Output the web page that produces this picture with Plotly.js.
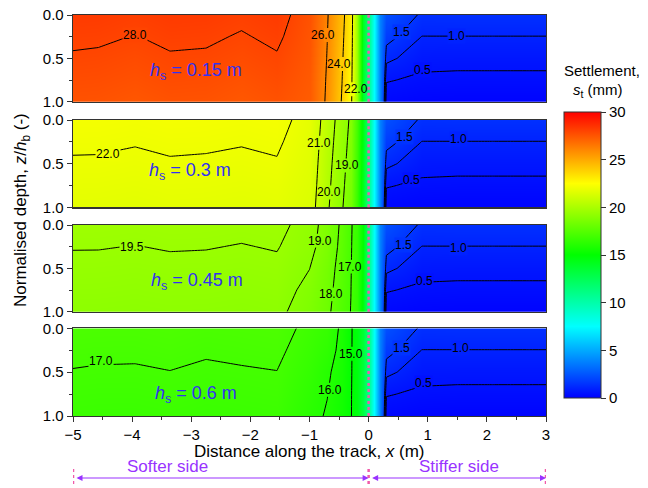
<!DOCTYPE html>
<html>
<head>
<meta charset="utf-8">
<script src="https://cdn.plot.ly/plotly-3.0.1.min.js"></script>
<style>html,body{margin:0;padding:0;background:#fff;}#chart{width:648px;height:488px;}</style>
</head>
<body>
<div id="chart"></div>
<script>
// grid nodes
const xNodes = [-5, -4.57, -3.95, -3.36, -2.75, -2.15, -1.55, -1.0, -0.7, -0.45, -0.3, -0.2, -0.1, 0, 0.1, 0.2, 0.3, 0.9, 1.5, 2.1, 2.7, 3];
const zNodes = [0, 0.25, 0.5, 0.75, 1];

// settlement s_t (mm), rows = depth z/h_b, columns = xNodes
const settle015 = [
  [28.29, 28.27, 28.15, 28.29, 28.27, 28.13, 28.29, 27.60, 26.10, 24.40, 23.00, 19.50, 14.0, 11.0, 7.1, 3.8, 2.34, 1.38, 1.40, 1.40, 1.40, 1.40],
  [28.11, 28.09, 27.98, 28.12, 28.09, 27.95, 28.12, 27.52, 26.02, 24.28, 22.85, 19.50, 14.0, 10.9, 7.0, 3.8, 1.74, 0.99, 0.99, 0.99, 0.99, 0.99],
  [27.94, 27.91, 27.80, 27.94, 27.92, 27.78, 27.94, 27.45, 25.95, 24.15, 22.70, 19.50, 13.9, 10.8, 7.0, 3.8, 1.14, 0.68, 0.66, 0.66, 0.66, 0.66],
  [27.76, 27.74, 27.63, 27.77, 27.74, 27.60, 27.77, 27.37, 25.87, 24.02, 22.55, 19.50, 13.9, 10.6, 6.9, 3.8, 0.54, 0.40, 0.38, 0.38, 0.38, 0.38],
  [27.59, 27.57, 27.45, 27.59, 27.57, 27.43, 27.59, 27.30, 25.80, 23.90, 22.40, 19.50, 13.8, 10.5, 6.9, 3.8, 0.20, 0.12, 0.10, 0.10, 0.10, 0.10]
];
const settle030 = [
  [22.20, 22.20, 22.15, 22.21, 22.19, 22.15, 22.21, 21.75, 20.57, 19.50, 18.85, 17.0, 14.5, 11.0, 7.1, 3.8, 2.34, 1.38, 1.40, 1.40, 1.40, 1.40],
  [22.08, 22.07, 22.03, 22.08, 22.07, 22.03, 22.08, 21.67, 20.46, 19.39, 18.74, 16.9, 14.4, 10.9, 7.0, 3.8, 1.74, 0.99, 0.99, 0.99, 0.99, 0.99],
  [21.95, 21.95, 21.90, 21.96, 21.94, 21.90, 21.96, 21.59, 20.35, 19.28, 18.64, 16.8, 14.3, 10.8, 7.0, 3.8, 1.14, 0.68, 0.66, 0.66, 0.66, 0.66],
  [21.83, 21.82, 21.78, 21.83, 21.82, 21.78, 21.83, 21.51, 20.25, 19.18, 18.53, 16.7, 14.2, 10.6, 6.9, 3.8, 0.54, 0.40, 0.38, 0.38, 0.38, 0.38],
  [21.70, 21.70, 21.65, 21.71, 21.69, 21.65, 21.71, 21.43, 20.14, 19.07, 18.42, 16.6, 14.1, 10.5, 6.9, 3.8, 0.20, 0.12, 0.10, 0.10, 0.10, 0.10]
];
const settle045 = [
  [19.65, 19.64, 19.61, 19.65, 19.64, 19.61, 19.65, 19.28, 18.72, 17.82, 17.10, 16.60, 15.0, 11.0, 7.1, 3.8, 2.34, 1.38, 1.40, 1.40, 1.40, 1.40],
  [19.52, 19.52, 19.49, 19.53, 19.52, 19.48, 19.53, 19.20, 18.65, 17.72, 17.07, 16.55, 14.9, 10.9, 7.0, 3.8, 1.74, 0.99, 0.99, 0.99, 0.99, 0.99],
  [19.40, 19.39, 19.36, 19.40, 19.39, 19.36, 19.40, 19.01, 18.45, 17.60, 17.04, 16.50, 14.8, 10.8, 7.0, 3.8, 1.14, 0.68, 0.66, 0.66, 0.66, 0.66],
  [19.27, 19.27, 19.24, 19.28, 19.27, 19.23, 19.28, 18.82, 18.32, 17.50, 17.01, 16.50, 14.7, 10.6, 6.9, 3.8, 0.54, 0.40, 0.38, 0.38, 0.38, 0.38],
  [19.15, 19.14, 19.11, 19.15, 19.14, 19.11, 19.15, 18.67, 18.20, 17.37, 16.98, 16.45, 14.6, 10.5, 6.9, 3.8, 0.20, 0.12, 0.10, 0.10, 0.10, 0.10]
];
const settle060 = [
  [17.23, 17.21, 17.20, 17.25, 17.18, 17.21, 17.25, 16.83, 16.60, 15.81, 15.10, 14.60, 13.5, 11.0, 7.1, 3.8, 2.34, 1.38, 1.40, 1.40, 1.40, 1.40],
  [17.10, 17.08, 17.08, 17.13, 17.05, 17.09, 17.13, 16.68, 16.38, 15.74, 15.09, 14.59, 13.4, 10.9, 7.0, 3.8, 1.74, 0.99, 0.99, 0.99, 0.99, 0.99],
  [16.98, 16.96, 16.95, 16.99, 16.93, 16.96, 16.99, 16.52, 16.12, 15.66, 15.08, 14.58, 13.3, 10.8, 7.0, 3.8, 1.14, 0.68, 0.66, 0.66, 0.66, 0.66],
  [16.85, 16.83, 16.83, 16.88, 16.80, 16.84, 16.88, 16.36, 16.02, 15.58, 15.06, 14.56, 13.2, 10.6, 6.9, 3.8, 0.54, 0.40, 0.38, 0.38, 0.38, 0.38],
  [16.73, 16.71, 16.70, 16.75, 16.68, 16.71, 16.75, 16.20, 15.94, 15.50, 15.05, 14.55, 13.1, 10.5, 6.9, 3.8, 0.20, 0.12, 0.10, 0.10, 0.10, 0.10]
];

const panelLabels = ['0.15', '0.3', '0.45', '0.6'];
// contour level sets per panel: [start, end, step]
const contourSets = [
  [[22, 28, 2], [0.5, 1.5, 0.5]],
  [[19, 22, 1], [0.5, 1.5, 0.5]],
  [[17, 19, 1], [19.5, 19.6, 1], [0.5, 1.5, 0.5]],
  [[15, 17, 1], [0.5, 1.5, 0.5]]
];
// contour labels: [level, label x, label z, line x at label (null = label box on near-horizontal line)]
const contourLabels = [
  [[28, -3.95, 0.23, null], [26, -0.77, 0.23, -0.70], [24, -0.50, 0.565, -0.44], [22, -0.22, 0.857, -0.284],
   [1.5, 0.56, 0.20, null], [1.0, 1.49, 0.24, null], [0.5, 0.91, 0.63, null]],
  [[22, -4.41, 0.39, null], [21, -0.84, 0.26, -0.83], [20, -0.67, 0.83, -0.65], [19, -0.36, 0.52, -0.386],
   [1.5, 0.60, 0.19, null], [1.0, 1.52, 0.22, null], [0.5, 0.73, 0.69, null]],
  [[19.5, -4.0, 0.25, null], [19, -0.82, 0.18, -0.88], [18, -0.64, 0.80, -0.61], [17, -0.32, 0.48, -0.29],
   [1.5, 0.59, 0.23, null], [1.0, 1.52, 0.26, null], [0.5, 0.94, 0.65, null]],
  [[17, -4.52, 0.37, null], [16, -0.65, 0.70, -0.68], [15, -0.29, 0.29, -0.283],
   [1.5, 0.56, 0.22, null], [1.0, 1.55, 0.22, null], [0.5, 0.92, 0.62, null]]
];
const colorTicks = [0, 5, 10, 15, 20, 25, 30];
const xTicks = [-5, -4, -3, -2, -1, 0, 1, 2, 3];
const yTicks = [0, 0.5, 1];

const fields = [settle015, settle030, settle045, settle060];
const FONT = 'Liberation Sans, Arial, sans-serif';
const jetStops = [[0, [0, 0, 255]], [0.25, [0, 255, 255]], [0.5, [0, 255, 0]], [0.75, [255, 255, 0]], [1, [255, 0, 0]]];
const jet = jetStops.map(s => [s[0], 'rgb(' + s[1].join(',') + ')']);
const ZMAX = 30;
function levelColor(v) {
  const t = Math.min(1, Math.max(0, v / ZMAX));
  for (let k = 1; k < jetStops.length; k++) {
    if (t <= jetStops[k][0]) {
      const a = jetStops[k - 1], b = jetStops[k];
      const f = (t - a[0]) / (b[0] - a[0]);
      const c = a[1].map((ci, j) => Math.round(ci + f * (b[1][j] - ci)));
      return 'rgb(' + c.join(',') + ')';
    }
  }
  return 'rgb(255,0,0)';
}
const pink = 'rgb(240,90,170)';
const purple = '#9933ff';

// layout geometry
const W = 648, H = 488;
const L = 73, R = 102, T = 15, B = 72;
const plotH = H - T - B;
const panelPx = [[15, 101.7], [120, 207.3], [225, 311.7], [328.3, 416]];
const toPaperY = py => (H - B - py) / plotH;
const toPaperX = px => (px - L) / (W - L - R);

const traces = [];
const layout = {
  width: W, height: H,
  margin: {l: L, r: R, t: T, b: B, pad: 0},
  paper_bgcolor: '#fff', plot_bgcolor: '#fff',
  font: {family: FONT, size: 15, color: '#000'},
  showlegend: false,
  annotations: [], shapes: []
};

const hsY = [0.657, 0.59, 0.654, 0.76];
const hsX = [-2.92, -3.02, -2.91, -2.92];

fields.forEach((f, i) => {
  const n = i + 1;
  const xa = n === 1 ? 'x' : 'x' + n;
  const ya = n === 1 ? 'y' : 'y' + n;
  traces.push({
    type: 'heatmap', x: xNodes, y: zNodes, z: f,
    xaxis: xa, yaxis: ya, zmin: 0, zmax: ZMAX, colorscale: jet, zsmooth: 'best',
    showscale: n === 1, hoverinfo: 'skip',
    colorbar: {
      x: toPaperX(564), xanchor: 'left', xpad: 0,
      y: toPaperY(255), yanchor: 'middle', ypad: 0,
      len: 286, lenmode: 'pixels', thickness: 37, thicknessmode: 'pixels',
      outlinewidth: 1, outlinecolor: '#333',
      ticks: 'outside', ticklen: 5, tickwidth: 1, tickcolor: '#333',
      tickvals: colorTicks, tickfont: {size: 15, family: FONT}
    }
  });
  contourSets[i].forEach(cs => {
    traces.push({
      type: 'contour', x: xNodes, y: zNodes, z: f, xaxis: xa, yaxis: ya,
      autocontour: false, showscale: false, hoverinfo: 'skip',
      contours: {start: cs[0], end: cs[1], size: cs[2], coloring: 'none', showlabels: false},
      line: {color: '#000', width: 1, smoothing: 0}
    });
  });
  const [top, bot] = panelPx[i];
  const axX = {
    domain: [0, 1], range: [-5, 3], anchor: ya, showgrid: false, zeroline: false,
    showline: true, linecolor: '#333', linewidth: 1.3, mirror: true,
    ticks: n === 4 ? 'outside' : '', showticklabels: n === 4,
    tickvals: xTicks, ticklen: 5, tickwidth: 1, tickcolor: '#333',
    tickfont: {size: 15, family: FONT}
  };
  if (n === 4) {
    axX.minor = {dtick: 0.5, ticks: 'outside', ticklen: 3, tickcolor: '#333', showgrid: false};
  }
  if (n > 1) axX.matches = 'x';
  const axY = {
    domain: [toPaperY(bot), toPaperY(top)], range: [1, 0], anchor: xa,
    showgrid: false, zeroline: false, showline: true, linecolor: '#333', linewidth: 1.3, mirror: true,
    ticks: 'outside', ticklen: 5, tickwidth: 1, tickcolor: '#333', tickvals: yTicks, tickformat: '.1f',
    tickfont: {size: 15, family: FONT},
    minor: {tickvals: [0.25, 0.75], ticks: 'outside', ticklen: 3, tickcolor: '#333', showgrid: false}
  };
  layout[n === 1 ? 'xaxis' : 'xaxis' + n] = axX;
  layout[n === 1 ? 'yaxis' : 'yaxis' + n] = axY;

  // contour labels
  contourLabels[i].forEach(lb => {
    const [lev, lx, lz, lineX] = lb;
    const col = levelColor(lev);
    if (lineX !== null) {
      layout.shapes.push({
        type: 'rect', xref: xa, yref: ya, x0: lineX - 0.05, x1: lineX + 0.05, y0: lz - 0.08, y1: lz + 0.08,
        fillcolor: col, line: {width: 0}, layer: 'above'
      });
    }
    layout.annotations.push({
      xref: xa, yref: ya, x: lx, y: lz, xanchor: 'center', yanchor: 'middle', showarrow: false,
      text: lev.toFixed(1), font: {size: 12, color: '#000', family: FONT},
      bgcolor: lineX === null ? col : 'rgba(0,0,0,0)', borderpad: 0
    });
  });

  layout.annotations.push({
    xref: xa, yref: ya, x: hsX[i], y: hsY[i], xanchor: 'center', yanchor: 'middle', showarrow: false,
    text: '<i>h</i><sub>s</sub> = ' + panelLabels[i] + ' m', font: {size: 18, color: 'rgb(50,50,240)', family: FONT}
  });
  layout.shapes.push({
    type: 'line', xref: xa, yref: ya + ' domain', x0: 0, x1: 0, y0: 0, y1: 1, layer: 'above',
    line: {color: pink, width: 2.5, dash: 'dot'}
  });
});

// axis / colorbar titles
layout.annotations.push({
  xref: 'paper', yref: 'paper', x: 0.5, y: toPaperY(451), xanchor: 'center', yanchor: 'middle',
  showarrow: false, text: 'Distance along the track, <i>x</i> (m)', font: {size: 17, family: FONT}
});
layout.annotations.push({
  xref: 'paper', yref: 'paper', x: toPaperX(22), y: toPaperY(210), xanchor: 'center', yanchor: 'middle',
  textangle: -90, showarrow: false, text: 'Normalised depth, <i>z</i>/<i>h</i><sub>b</sub> (-)',
  font: {size: 17, family: FONT}
});
layout.annotations.push({
  xref: 'paper', yref: 'paper', x: toPaperX(602), y: toPaperY(71), xanchor: 'center', yanchor: 'middle',
  showarrow: false, text: 'Settlement,', font: {size: 15, family: FONT}
});
layout.annotations.push({
  xref: 'paper', yref: 'paper', x: toPaperX(598), y: toPaperY(91), xanchor: 'center', yanchor: 'middle',
  showarrow: false, text: '<i>s</i><sub>t</sub> (mm)', font: {size: 15, family: FONT}
});

// bottom side indicators
const sideLabels = [['Softer side', -3.41], ['Stiffer side', 1.53]];
const sideBounds = [[-5, 0], [0, 3]];
sideLabels.forEach(s => layout.annotations.push({
  xref: 'x4', yref: 'paper', x: s[1], y: toPaperY(466), xanchor: 'center', yanchor: 'middle',
  showarrow: false, text: s[0], font: {size: 17, color: purple, family: FONT}
}));
sideBounds.forEach(b => layout.annotations.push({
  xref: 'x4', yref: 'paper', x: b[1], y: toPaperY(478), axref: 'x4', ayref: 'pixel', ax: b[0], ay: 0,
  text: ' ', showarrow: true, arrowside: 'end+start', arrowhead: 2, startarrowhead: 2,
  arrowsize: 1, startarrowsize: 1, arrowwidth: 1.2, arrowcolor: purple, standoff: 0, startstandoff: 0
}));
[-5, 0, 3].forEach(xv => layout.shapes.push({
  type: 'line', xref: 'x4', yref: 'paper', x0: xv, x1: xv, y0: toPaperY(469), y1: toPaperY(487),
  line: {color: pink, width: 2.5, dash: 'dot'}
}));

Plotly.newPlot('chart', traces, layout, {displayModeBar: false, staticPlot: true});
</script>
</body>
</html>
